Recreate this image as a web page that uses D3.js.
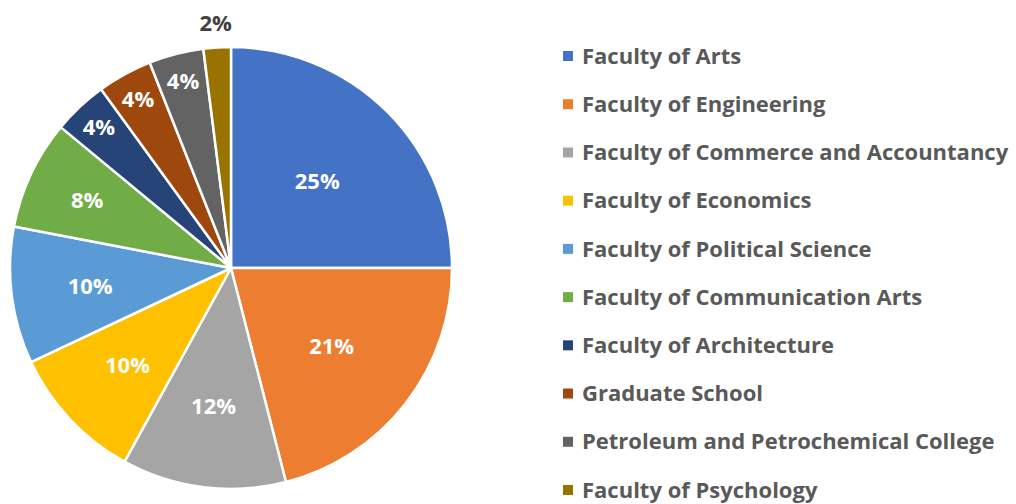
<!DOCTYPE html>
<html>
<head>
<meta charset="utf-8">
<script src="https://cdn.jsdelivr.net/npm/d3@7"></script>
<style>
  body { margin: 0; background: #fff; }
  text { font-family: "Open Sans", "Lato", sans-serif; font-weight: bold; }
</style>
</head>
<body>
<div class="chart"></div>
<script>
// chart data
var faculties = [
  "Faculty of Arts",
  "Faculty of Engineering",
  "Faculty of Commerce and Accountancy",
  "Faculty of Economics",
  "Faculty of Political Science",
  "Faculty of Communication Arts",
  "Faculty of Architecture",
  "Graduate School",
  "Petroleum and Petrochemical College",
  "Faculty of Psychology"
];
var shares = [25, 21, 12, 10, 10, 8, 4, 4, 4, 2];
var colors = ["#4472C4", "#ED7D31", "#A5A5A5", "#FFC000", "#5B9BD5",
              "#70AD47", "#264478", "#9E480E", "#636363", "#997300"];

var svgWidth = 1016;
var svgHeight = 504;
var radius = 221;
var cx = 231, cy = 268;

var svg = d3.select(".chart")
  .append("svg")
  .attr("width", svgWidth)
  .attr("height", svgHeight);

var pieGroup = svg.append("g")
  .attr("transform", `translate(${cx}, ${cy})`);

var color = d3.scaleOrdinal().domain(faculties).range(colors);

var pie = d3.pie().sort(null).value(d => d.value);
var arcs = pie(faculties.map((f, i) => ({ name: f, value: shares[i] })));

var arc = d3.arc().innerRadius(0).outerRadius(radius);

pieGroup.selectAll("path")
  .data(arcs)
  .enter()
  .append("path")
  .attr("d", arc)
  .attr("fill", d => color(d.data.name))
  .attr("stroke", "#fff")
  .attr("stroke-width", 2.5)
  .attr("stroke-linejoin", "round");

// labels sit further out for the thin slices (like excel best fit)
var labelRadius = d3.scaleLinear()
  .domain([4, 10, 25])
  .range([193, 142, 122])
  .clamp(true);

pieGroup.selectAll("text.pct")
  .data(arcs)
  .enter()
  .append("text")
  .attr("class", "pct")
  .attr("transform", function(d) {
    var a = (d.startAngle + d.endAngle) / 2;
    var r = d.data.value < 3 ? radius + 24 : labelRadius(d.data.value);
    return `translate(${Math.sin(a) * r}, ${-Math.cos(a) * r})`;
  })
  .attr("text-anchor", "middle")
  .attr("dy", "0.35em")
  .attr("font-size", 22)
  .attr("fill", d => d.data.value < 3 ? "#404040" : "#fff")
  .text(d => `${d.data.value}%`);

// legend
var legendY = d3.scalePoint()
  .domain(faculties)
  .range([56, 490]);

var legend = svg.append("g")
  .selectAll("g")
  .data(faculties)
  .enter()
  .append("g")
  .attr("transform", d => `translate(563, ${legendY(d)})`);

legend.append("rect")
  .attr("x", 0)
  .attr("y", -5)
  .attr("width", 10)
  .attr("height", 10)
  .attr("fill", d => color(d));

legend.append("text")
  .attr("x", 19)
  .attr("dy", "0.35em")
  .attr("font-size", 22)
  .attr("fill", "#595959")
  .text(d => d);
</script>
</body>
</html>
